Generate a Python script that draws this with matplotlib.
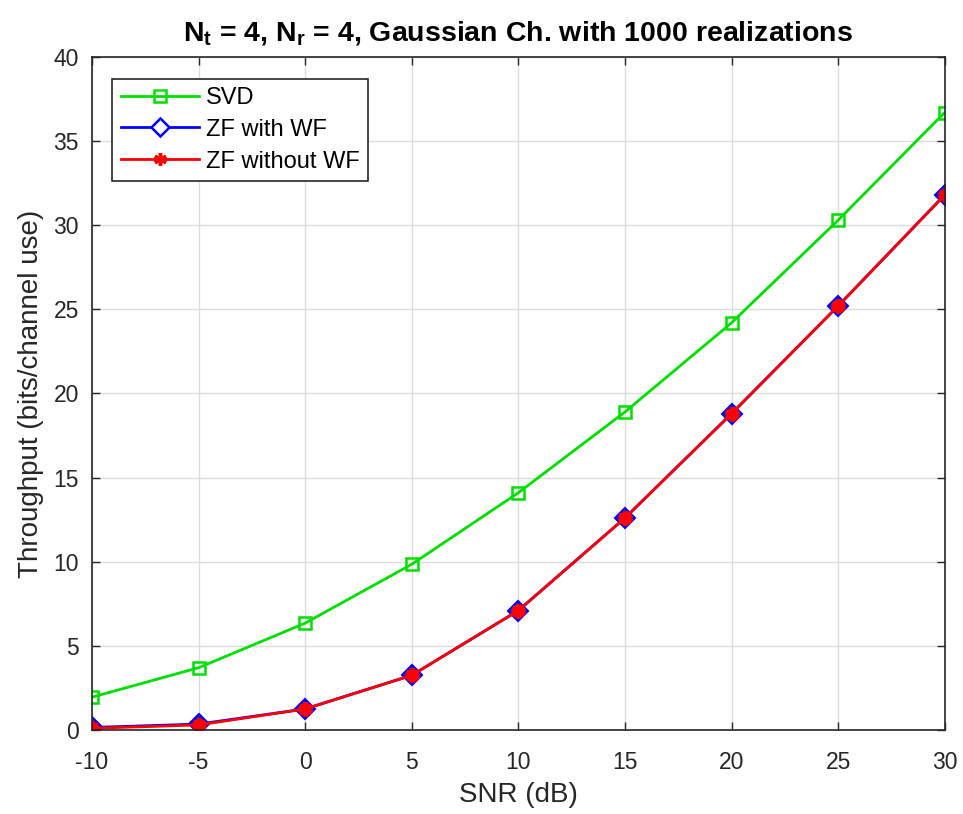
import matplotlib
matplotlib.use("Agg")
import matplotlib.pyplot as plt
from matplotlib.lines import Line2D

plt.rcParams['font.family'] = ['Liberation Sans', 'DejaVu Sans']
plt.rcParams['mathtext.fontset'] = 'custom'
plt.rcParams['mathtext.rm'] = 'Liberation Sans'
plt.rcParams['mathtext.bf'] = 'Liberation Sans:bold'
plt.rcParams['mathtext.it'] = 'Liberation Sans:italic'
plt.rcParams['axes.unicode_minus'] = False

snr_db = [-10, -5, 0, 5, 10, 15, 20, 25, 30]
svd = [1.95, 3.7, 6.35, 9.85, 14.1, 18.9, 24.2, 30.3, 36.7]
zf_wf = [0.15, 0.35, 1.25, 3.25, 7.1, 12.6, 18.8, 25.2, 31.8]
zf_nowf = [0.1, 0.3, 1.25, 3.25, 7.1, 12.6, 18.8, 25.2, 31.8]
labels = ['SVD', 'ZF with WF', 'ZF without WF']
title = r'N$_{\mathbf{t}}$ = 4, N$_{\mathbf{r}}$ = 4, Gaussian Ch. with 1000 realizations'

green = '#00e000'
blue = '#0000ff'
red = '#ff0000'
txt = '#262626'

fig = plt.figure(figsize=(9.63, 8.14), dpi=100)
ax = fig.add_axes([0.0955, 0.1032, 0.8855, 0.8268])

ax.plot(snr_db, svd, color=green, lw=2, marker='s', ms=9, mfc='none', mec=green, mew=1.8)
ax.plot(snr_db, zf_wf, color=blue, lw=2, marker='D', ms=10, mfc='#3020a0', mec=blue, mew=1.5)
ax.plot(snr_db, zf_nowf, color=red, lw=2, marker=(6, 2, 0), ms=10, mec=red, mfc=red, mew=3.8)

ax.set_xlim(-10, 30)
ax.set_ylim(0, 40)
ax.set_xticks(range(-10, 31, 5))
ax.set_yticks(range(0, 41, 5))
ax.grid(True, color='#dcdcdc', lw=1)
ax.set_axisbelow(True)
ax.tick_params(direction='in', top=True, right=True, labelsize=16.5, length=6, width=1,
               colors=txt)
ax.tick_params(axis='x', pad=15)
ax.tick_params(axis='y', pad=9.5)
for s in ax.spines.values():
    s.set_linewidth(1.2)
    s.set_color(txt)

ax.set_xlabel('SNR (dB)', fontsize=20, color=txt, labelpad=6)
ax.set_ylabel('Throughput (bits/channel use)', fontsize=20, color=txt, labelpad=7)
ax.set_title(title, fontsize=20.5, fontweight='bold', pad=12)

handles = [
    Line2D([], [], color=green, lw=2, marker='s', ms=8, mfc='none', mec=green, mew=1.8),
    Line2D([], [], color=blue, lw=2, marker='D', ms=9, mfc='white', mec=blue, mew=1.8),
    Line2D([], [], color=red, lw=2, marker=(6, 2, 0), ms=9, mec=red, mew=2.5),
]
leg = ax.legend(handles, labels, loc='upper left', bbox_to_anchor=(0.024, 0.968),
                fontsize=17, frameon=True, fancybox=False, edgecolor=txt,
                framealpha=1, handlelength=3.3, borderaxespad=0, labelspacing=0.42,
                handletextpad=0.3, borderpad=0.35)
leg.get_frame().set_linewidth(1.2)

fig.savefig('out.png', dpi=100)
